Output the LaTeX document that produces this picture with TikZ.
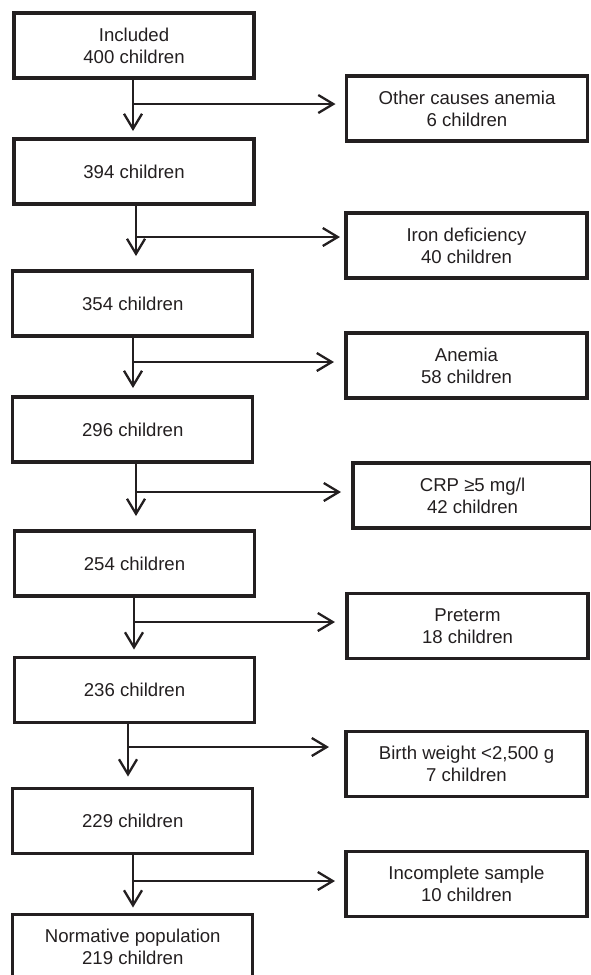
\documentclass[tikz,border=0pt]{standalone}
\usepackage{fontspec}
\setmainfont{Liberation Sans}
\usetikzlibrary{arrows.meta}
\definecolor{ink}{RGB}{35,31,32}
\tikzset{
	stagebox/.style={draw=ink, line width=3.2pt, minimum width=240pt, minimum height=65pt,
		inner sep=0pt, outer sep=0pt, align=center, text=ink, font=\fontsize{18.6}{22}\selectfont},
	exclbox/.style={stagebox, minimum width=241pt},
	flow/.style={draw=ink, line width=2.3pt, line join=miter, -{Straight Barb[length=15pt,width=18pt]}}
}
\begin{document}
\begin{tikzpicture}[x=1pt,y=-1pt]
		\useasboundingbox (0,0) rectangle (590,975);
		\node[stagebox] (b1) at (134,45.5) {Included\\400 children};
		\node[stagebox] (b2) at (134,171.5) {394 children};
		\node[stagebox] (b3) at (132.75,303.5) {354 children};
		\node[stagebox] (b4) at (132.75,429.5) {296 children};
		\node[stagebox] (b5) at (134.5,563.5) {254 children};
		\node[stagebox] (b6) at (134.5,690) {236 children};
		\node[stagebox] (b7) at (132.75,821) {229 children};
		\node[stagebox] (b8) at (132.75,947) {Normative population\\219 children};
		\node[exclbox] (r1) at (467,108.5) {Other causes anemia\\6 children};
		\node[exclbox] (r2) at (466.5,245.5) {Iron deficiency\\40 children};
		\node[exclbox] (r3) at (466.5,365.5) {Anemia\\58 children};
		\node[exclbox, minimum width=239pt] (r4) at (472.5,495.5) {CRP ≥5 mg/l\\42 children};
		\node[exclbox] (r5) at (467.5,626) {Preterm\\18 children};
		\node[exclbox] (r6) at (466.5,764) {Birth weight <2,500 g\\7 children};
		\node[exclbox] (r7) at (466.5,884) {Incomplete sample\\10 children};
		\foreach \n/\x/\y in {1/133/104, 2/136/237, 3/133/362, 4/136/492, 5/134/622, 6/128/747, 7/133/881}
			\coordinate (j\n) at (\x,\y);
		\foreach \a/\b/\gv/\gh in {1/2/8/11, 2/3/15/6, 3/4/9/12, 4/5/15/12, 5/6/8/12, 6/7/12/17, 7/8/7/11}{
			\draw[flow, shorten >=\gv pt] (b\a.south -| j\a) -- (b\b.north -| j\a);
			\draw[flow, shorten >=\gh pt] (j\a) -- (r\a.west |- j\a);
		}
	\end{tikzpicture}
\end{document}
